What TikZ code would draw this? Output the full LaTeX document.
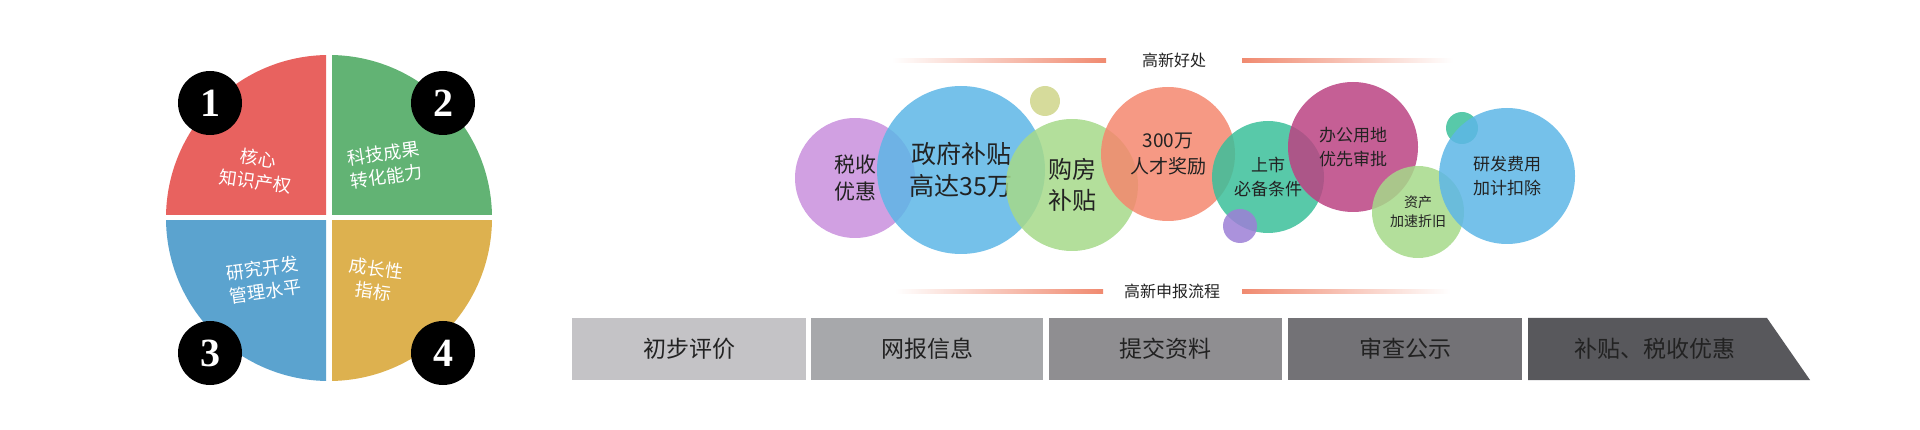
\documentclass[tikz,border=0pt]{standalone}
\usepackage{fontspec}
\setmainfont{Noto Sans CJK SC}
\newfontfamily\numfont{Liberation Serif}
\definecolor{pred}{HTML}{E8625F}
\definecolor{pgreen}{HTML}{62B374}
\definecolor{pblue}{HTML}{5BA3CF}
\definecolor{pyellow}{HTML}{DDB14F}
\definecolor{salm}{HTML}{F08A70}
\definecolor{bpurple}{HTML}{C98FDD}
\definecolor{bblue}{HTML}{5DB6E6}
\definecolor{bgreen}{HTML}{A6D98A}
\definecolor{bsalmon}{HTML}{F5876E}
\definecolor{bteal}{HTML}{3BBF9A}
\definecolor{bmag}{HTML}{BB4382}
\definecolor{bsy}{HTML}{CFD58A}
\definecolor{bsp}{HTML}{9C7FD6}
\definecolor{txt}{HTML}{222222}
\definecolor{g1}{RGB}{196,195,198}
\definecolor{g2}{RGB}{167,168,171}
\definecolor{g3}{RGB}{143,142,145}
\definecolor{g4}{RGB}{115,114,118}
\definecolor{g5}{RGB}{88,88,92}
\begin{document}
\begin{tikzpicture}[x=1pt,y=-1pt,
  num/.style={circle,fill=black,minimum size=64pt,inner sep=0pt,text=white,font=\numfont\bfseries\fontsize{40}{40}\selectfont},
  ptext/.style={text=white,align=center,font=\fontsize{18}{23}\selectfont},
  bub/.style={circle,fill=#1,fill opacity=0.85,text opacity=1,inner sep=0pt,text=txt,align=center},
  lbl/.style={text=txt,font=\fontsize{23}{23}\selectfont},
  ttl/.style={text=txt,font=\fontsize{16}{16}\selectfont}]
\useasboundingbox (0,0) rectangle (1920,430);
% pie
\begin{scope}\clip (150,40) rectangle (326,215); \fill[pred] (329,218) circle[radius=163]; \end{scope}
\begin{scope}\clip (332,40) rectangle (510,215); \fill[pgreen] (329,218) circle[radius=163]; \end{scope}
\begin{scope}\clip (150,221) rectangle (326,400); \fill[pblue] (329,218) circle[radius=163]; \end{scope}
\begin{scope}\clip (332,221) rectangle (510,400); \fill[pyellow] (329,218) circle[radius=163]; \end{scope}
\node[ptext,rotate=-8] (t1) at (257,170) {核心\\知识产权};
\node[ptext,rotate=8] (t2) at (385,165) {科技成果\\转化能力};
\node[ptext,rotate=8] (t3) at (264,280) {研究开发\\管理水平};
\node[ptext,rotate=-8] (t4) at (375,280) {成长性\\指标};
\node[num] (n1) at (210,103) {1};
\node[num] (n2) at (443,103) {2};
\node[num] (n3) at (210,353) {3};
\node[num] (n4) at (443,353) {4};
% benefits title
\shade[left color=white,right color=salm] (892,59) rectangle (1106,63);
\shade[left color=salm,right color=white] (1242,59) rectangle (1453,63);
\node[ttl] (h1) at (1174,60) {高新好处};
% bubbles
\node[bub=bpurple,minimum size=120pt,font=\fontsize{21}{27}\selectfont] (b1) at (855,178) {税收\\优惠};
\node[bub=bblue,minimum size=168pt,font=\fontsize{25}{32}\selectfont] (b2) at (961,170) {政府补贴\\高达35万};
\node[bub=bsy,minimum size=30pt] (b3) at (1045,101) {};
\node[bub=bgreen,minimum size=132pt,font=\fontsize{24}{31}\selectfont] (b4) at (1072,185) {购房\\补贴};
\node[bub=bsalmon,minimum size=134pt,font=\fontsize{19}{26}\selectfont] (b5) at (1168,154) {300万\\人才奖励};
\node[bub=bteal,minimum size=112pt,font=\fontsize{17}{24}\selectfont] (b6) at (1268,177) {上市\\必备条件};
\node[bub=bsp,minimum size=34pt] (b7) at (1240,226) {};
\node[bub=bmag,minimum size=130pt,font=\fontsize{17}{24}\selectfont] (b8) at (1353,147) {办公用地\\优先审批};
\node[bub=bgreen,minimum size=92pt,font=\fontsize{14}{19}\selectfont] (b9) at (1418,212) {资产\\加速折旧};
\node[bub=bteal,minimum size=32pt] (b10) at (1462,128) {};
\node[bub=bblue,minimum size=136pt,font=\fontsize{17}{24}\selectfont] (b11) at (1507,176) {研发费用\\加计扣除};
% process title
\shade[left color=white,right color=salm] (895,290) rectangle (1103,294);
\shade[left color=salm,right color=white] (1242,290) rectangle (1450,294);
\node[ttl] (h2) at (1172,291) {高新申报流程};
% steps
\fill[g1] (572,318) rectangle (806,380);
\node[lbl] (l1) at (689,349) {初步评价};
\fill[g2] (811,318) rectangle (1043,380);
\node[lbl] (l2) at (927,349) {网报信息};
\fill[g3] (1049,318) rectangle (1282,380);
\node[lbl] (l3) at (1165,349) {提交资料};
\fill[g4] (1288,318) rectangle (1522,380);
\node[lbl] (l4) at (1405,349) {审查公示};
\fill[g5] (1528,318) -- (1767,318) -- (1810,380) -- (1528,380) -- cycle;
\node[lbl] (l5) at (1655,349) {补贴、税收优惠};
\end{tikzpicture}
\end{document}
